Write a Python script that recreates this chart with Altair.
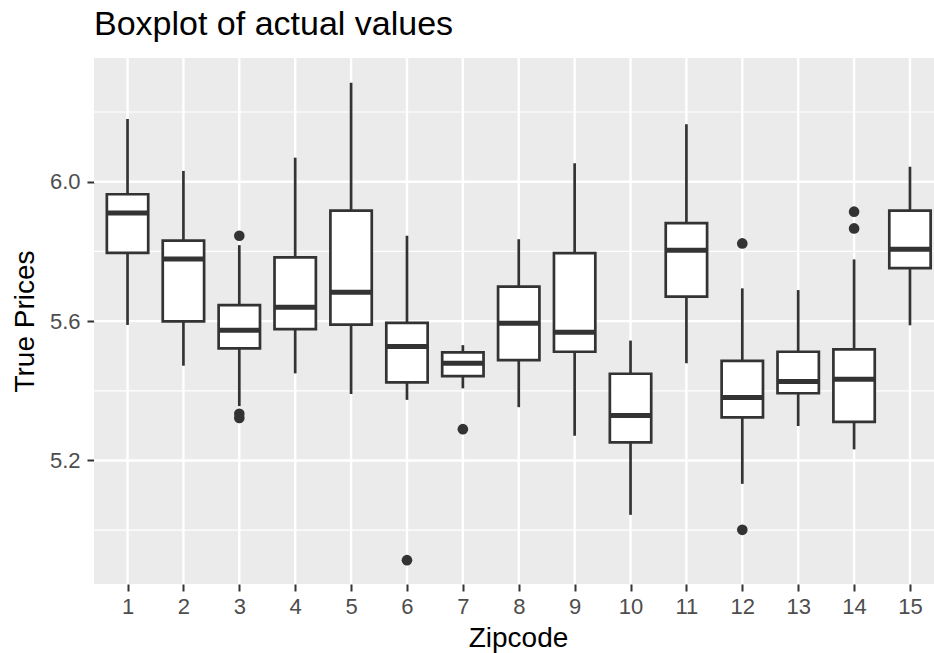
import altair as alt
import pandas as pd

# Five-number summaries of log true prices per zipcode
zipcodes = list(range(1, 16))
whisker_low = [5.589, 5.472, 5.356, 5.450, 5.391, 5.374, 5.407, 5.353, 5.271, 5.044,
               5.479, 5.133, 5.299, 5.232, 5.588]
q1 = [5.796, 5.599, 5.522, 5.577, 5.590, 5.424, 5.442, 5.488, 5.512, 5.252,
      5.670, 5.324, 5.393, 5.311, 5.752]
median = [5.910, 5.778, 5.574, 5.640, 5.683, 5.527, 5.479, 5.594, 5.568, 5.329,
          5.803, 5.381, 5.427, 5.433, 5.806]
q3 = [5.964, 5.831, 5.646, 5.783, 5.917, 5.595, 5.510, 5.699, 5.795, 5.449,
      5.881, 5.486, 5.512, 5.519, 5.917]
whisker_high = [6.180, 6.031, 5.818, 6.069, 6.284, 5.845, 5.531, 5.835, 6.053, 5.544,
                6.165, 5.694, 5.689, 5.777, 6.043]

# Points beyond the whiskers
outlier_zip = [3, 3, 3, 6, 7, 12, 12, 14, 14]
outlier_val = [5.845, 5.334, 5.322, 4.914, 5.290, 5.823, 5.001, 5.914, 5.866]

# Grid positions
major_breaks = [5.2, 5.6, 6.0]
minor_breaks = [5.0, 5.4, 5.8, 6.2]

FONT = "Liberation Sans"
INK = "#333333"
HALF = 0.37  # half box width in zipcode units

boxes = pd.DataFrame({
    "zip": zipcodes, "lo": whisker_low, "q1": q1, "med": median,
    "q3": q3, "hi": whisker_high,
})
outliers = pd.DataFrame({"zip": outlier_zip, "val": outlier_val})
grid_major = pd.DataFrame({"y": major_breaks})
grid_minor = pd.DataFrame({"y": minor_breaks})
grid_x = pd.DataFrame({"zip": zipcodes})

x_scale = alt.Scale(domain=[0.4, 15.43], nice=False, zero=False)
y_scale = alt.Scale(domain=[4.8456, 6.355], nice=False, zero=False)

x_axis = alt.Axis(
    values=zipcodes, grid=False, domain=False, title="Zipcode",
    tickColor=INK, tickWidth=2, tickSize=7,
    labelFont=FONT, labelFontSize=22, labelColor="#4D4D4D",
    labelPadding=22, labelBaseline="alphabetic",
    titleFont=FONT, titleFontSize=28, titleFontWeight="normal", titleColor="black",
    titleX=424, titleY=62, titleBaseline="alphabetic", titleAlign="center",
    titleAnchor="middle",
)
y_axis = alt.Axis(
    values=major_breaks, format=".1f", grid=False, domain=False, title="True Prices",
    tickColor=INK, tickWidth=2, tickSize=7,
    labelFont=FONT, labelFontSize=22, labelColor="#4D4D4D", labelPadding=7,
    titleFont=FONT, titleFontSize=28, titleFontWeight="normal", titleColor="black",
    titleX=-61, titleY=263, titleAngle=270, titleBaseline="alphabetic",
    titleAlign="center", titleAnchor="middle",
)


def xq(field):
    return alt.X(field, type="quantitative", scale=x_scale, axis=x_axis)


def yq(field):
    return alt.Y(field, type="quantitative", scale=y_scale, axis=y_axis)


minor_lines = alt.Chart(grid_minor).mark_rule(color="white", strokeWidth=1.2).encode(
    y=yq("y")
)
major_lines = alt.Chart(grid_major).mark_rule(color="white", strokeWidth=2.4).encode(
    y=yq("y")
)
vertical_lines = alt.Chart(grid_x).mark_rule(color="white", strokeWidth=2.4).encode(
    x=xq("zip")
)

whiskers = alt.Chart(boxes).mark_rule(color=INK, strokeWidth=2.7).encode(
    x=xq("zip"), y=yq("lo"), y2="hi:Q",
)

box_base = alt.Chart(boxes).transform_calculate(
    left=f"datum.zip - {HALF}", right=f"datum.zip + {HALF}"
)
box_rects = box_base.mark_rect(fill="white", stroke=INK, strokeWidth=2.7).encode(
    x=xq("left"), x2="right:Q", y=yq("q1"), y2="q3:Q",
)
medians = box_base.mark_rule(color=INK, strokeWidth=5, strokeCap="butt").encode(
    x=xq("left"), x2="right:Q", y=yq("med"),
)

outlier_pts = alt.Chart(outliers).mark_circle(color=INK, opacity=1, size=113).encode(
    x=xq("zip"), y=yq("val"),
)

chart = alt.layer(
    minor_lines, major_lines, vertical_lines, whiskers, box_rects, medians, outlier_pts
).properties(
    width=840,
    height=526,
    title=alt.TitleParams(
        "Boxplot of actual values", anchor="start", frame="group",
        font=FONT, fontSize=34, fontWeight="normal", color="black",
        baseline="alphabetic", offset=22, dy=34,
    ),
    autosize=alt.AutoSizeParams(type="none"),
    padding={"left": 94, "top": 58, "right": 0, "bottom": 69},
    background="white",
).configure_view(fill="#EBEBEB", stroke=None)

chart.save("out.html", embed_options={"renderer": "svg", "actions": False})
